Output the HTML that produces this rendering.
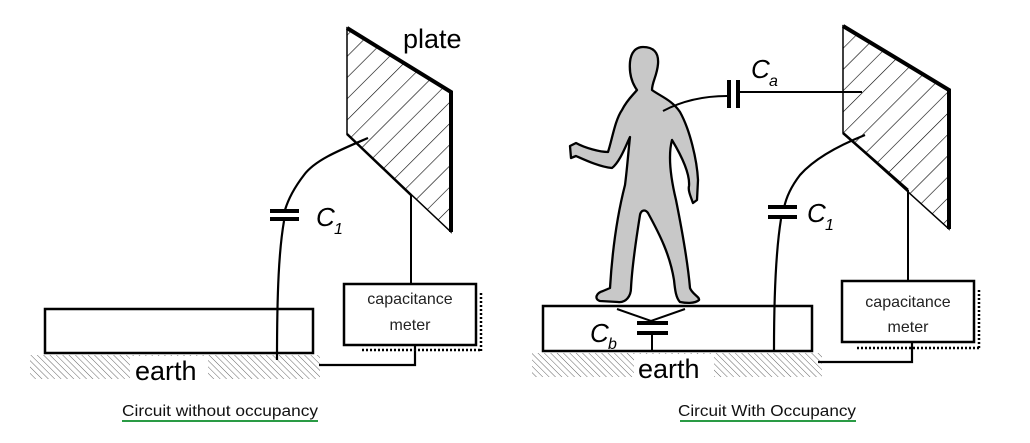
<!DOCTYPE html>
<html><head><meta charset="utf-8"><style>
html,body{margin:0;padding:0;background:#fff;width:1030px;height:443px;overflow:hidden}
svg{display:block}
text{font-family:"Liberation Sans",sans-serif}
</style></head><body>
<svg width="1030" height="443" viewBox="0 0 1030 443" xmlns="http://www.w3.org/2000/svg">
<defs>
<pattern id="hp" patternUnits="userSpaceOnUse" width="15" height="15" patternTransform="rotate(45)">
<line x1="0" y1="0" x2="0" y2="15" stroke="#000" stroke-width="1.2"/>
</pattern>
<pattern id="gp" patternUnits="userSpaceOnUse" width="4.5" height="4.5" patternTransform="rotate(-45)">
<line x1="0" y1="0" x2="0" y2="4.5" stroke="#666" stroke-width="1"/>
</pattern>
</defs>

<!-- LEFT PANEL -->
<rect x="30" y="355" width="290" height="24" fill="url(#gp)"/>
<rect x="130" y="356" width="78" height="24" fill="#fff"/>
<rect x="45" y="309" width="268" height="44" fill="#fff" stroke="#000" stroke-width="2.5"/>
<text x="135" y="380" font-size="27">earth</text>

<polygon points="347,28 451,92 451,232 347,134" fill="url(#hp)" stroke="#000" stroke-width="1.5"/>
<polyline points="347,28 451,92 451,232" fill="none" stroke="#000" stroke-width="4"/>
<line x1="347" y1="134" x2="411" y2="195" stroke="#000" stroke-width="2.5"/>
<text x="403" y="48" font-size="27">plate</text>

<path d="M368,138 C340,150 315,160 304,175 C294,188 288,200 285,210" fill="none" stroke="#000" stroke-width="2.2"/>
<line x1="270" y1="211" x2="299" y2="211" stroke="#000" stroke-width="4"/>
<line x1="270" y1="219" x2="299" y2="219" stroke="#000" stroke-width="4"/>
<path d="M284,221 C279,250 277,290 277,360" fill="none" stroke="#000" stroke-width="2.2"/>
<text x="316" y="226" font-size="26" font-style="italic">C</text>
<text x="334" y="234" font-size="16" font-style="italic">1</text>

<line x1="411" y1="195" x2="411" y2="284" stroke="#000" stroke-width="2"/>
<rect x="344" y="284" width="132" height="61" fill="#fff" stroke="#000" stroke-width="2.5"/>
<line x1="481" y1="293" x2="481" y2="351" stroke="#000" stroke-width="2.5" stroke-dasharray="2,2"/>
<line x1="362" y1="350" x2="481" y2="350" stroke="#000" stroke-width="2.5" stroke-dasharray="2,2"/>
<text x="410" y="304" font-size="16" text-anchor="middle" fill="#222">capacitance</text>
<text x="410" y="330" font-size="16" text-anchor="middle" fill="#222">meter</text>
<polyline points="415,345 415,365 319,365" fill="none" stroke="#000" stroke-width="2.2"/>

<text x="122" y="416" font-size="15.5" fill="#111" textLength="196" lengthAdjust="spacingAndGlyphs">Circuit without occupancy</text>
<line x1="122" y1="421" x2="318" y2="421" stroke="#2a9b45" stroke-width="2"/>

<!-- RIGHT PANEL -->
<rect x="532" y="353" width="290" height="24" fill="url(#gp)"/>
<rect x="634" y="354" width="80" height="24" fill="#fff"/>
<rect x="543" y="306" width="269" height="45" fill="#fff" stroke="#000" stroke-width="2.5"/>
<text x="638" y="378" font-size="27">earth</text>

<path d="M643,47 C653,47 659,52 658,64 C657,76 652,82 652,90 C660,96 672,100 680,112 C690,130 697,160 698,180 L697,200 L693,203 C690,195 688,190 689,186 C690,175 684,160 672,140 C668,155 670,175 676,200 C682,230 688,265 690,288 C692,294 700,297 699,300 C695,304 685,303 680,302 C676,298 675,290 674,280 C670,255 660,235 648,213 C645,209 641,210 640,215 C636,240 632,268 631,288 C631,296 626,303 618,302 L600,301 C594,299 596,293 603,291 L610,288 C612,255 616,220 625,185 C627,170 628,155 630,137 C626,145 620,162 612,168 C600,167 585,160 576,156 L571,158 L570,146 L576,143 C585,148 600,152 608,152 C612,140 615,120 622,110 C627,100 633,95 637,90 C632,83 629,74 630,62 C631,52 636,47 643,47Z" fill="#c8c8c8" stroke="#000" stroke-width="2.3" stroke-linejoin="round"/>

<polygon points="843,26 949,90 949,229 843,133" fill="url(#hp)" stroke="#000" stroke-width="1.5"/>
<polyline points="843,26 949,90 949,229" fill="none" stroke="#000" stroke-width="4"/>
<line x1="843" y1="133" x2="908" y2="190" stroke="#000" stroke-width="2.5"/>

<path d="M663,111 C680,102 700,96 727,96" fill="none" stroke="#000" stroke-width="2"/>
<line x1="729" y1="80" x2="729" y2="108" stroke="#000" stroke-width="4"/>
<line x1="738" y1="80" x2="738" y2="108" stroke="#000" stroke-width="4"/>
<line x1="740" y1="92" x2="862" y2="92" stroke="#000" stroke-width="2"/>
<text x="751" y="78" font-size="26" font-style="italic">C</text>
<text x="769" y="86" font-size="16" font-style="italic">a</text>

<path d="M865,135 C840,145 815,158 800,175 C790,188 786,198 784,208" fill="none" stroke="#000" stroke-width="2.2"/>
<line x1="768" y1="207" x2="797" y2="207" stroke="#000" stroke-width="4"/>
<line x1="768" y1="217" x2="797" y2="217" stroke="#000" stroke-width="4"/>
<path d="M781,219 C776,250 774,290 774,350" fill="none" stroke="#000" stroke-width="2.2"/>
<text x="807" y="222" font-size="26" font-style="italic">C</text>
<text x="825" y="230" font-size="16" font-style="italic">1</text>

<polyline points="617,309 651,321 685,309" fill="none" stroke="#000" stroke-width="2"/>
<line x1="637" y1="323" x2="668" y2="323" stroke="#000" stroke-width="4"/>
<line x1="637" y1="333" x2="668" y2="333" stroke="#000" stroke-width="4"/>
<line x1="652" y1="335" x2="652" y2="351" stroke="#000" stroke-width="2"/>
<text x="590" y="342" font-size="26" font-style="italic">C</text>
<text x="608" y="349" font-size="16" font-style="italic">b</text>

<line x1="908" y1="190" x2="908" y2="281" stroke="#000" stroke-width="2"/>
<rect x="842" y="281" width="132" height="61" fill="#fff" stroke="#000" stroke-width="2.5"/>
<line x1="979" y1="290" x2="979" y2="349" stroke="#000" stroke-width="2.5" stroke-dasharray="2,2"/>
<line x1="857" y1="348" x2="979" y2="348" stroke="#000" stroke-width="2.5" stroke-dasharray="2,2"/>
<text x="908" y="307" font-size="16" text-anchor="middle" fill="#222">capacitance</text>
<text x="908" y="332" font-size="16" text-anchor="middle" fill="#222">meter</text>
<polyline points="912,342 912,362 818,362" fill="none" stroke="#000" stroke-width="2.2"/>

<text x="678" y="416" font-size="15.5" fill="#111" textLength="178" lengthAdjust="spacingAndGlyphs">Circuit With Occupancy</text>
<line x1="680" y1="421" x2="856" y2="421" stroke="#2a9b45" stroke-width="2"/>
</svg>
</body></html>
